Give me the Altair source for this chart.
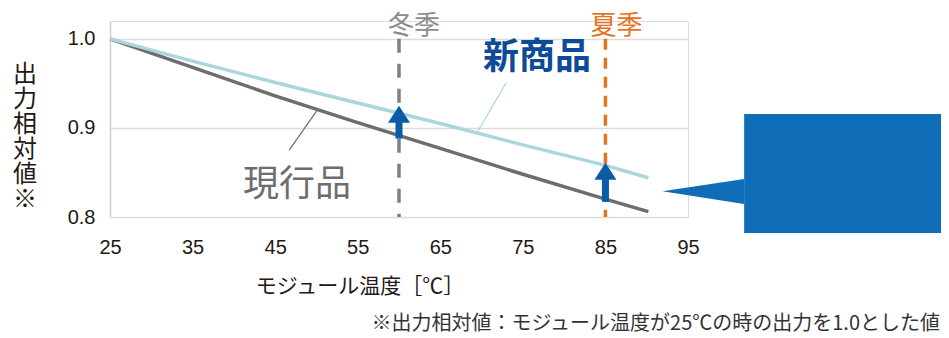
import altair as alt
import pandas as pd

# ---- data ----
temps = [25, 35, 45, 55, 65, 75, 85, 90.2]
current_vals = [1.0, 0.968, 0.936, 0.906, 0.877, 0.848, 0.820, 0.806]
new_vals = [1.0, 0.975, 0.951, 0.928, 0.905, 0.881, 0.858, 0.844]
series_names = ["現行品", "新商品"]

season_temps = [60, 85]
season_labels = ["冬季", "夏季"]

arrow_temps = [60, 85]
arrow_from = [0.888, 0.817]
arrow_to = [0.925, 0.861]

x_ticks = [25, 35, 45, 55, 65, 75, 85, 95]
y_ticks = [0.8, 0.9, 1.0]

# leader lines of the series labels (temp, value)
leader_x1 = [46.7, 73.0]
leader_y1 = [0.875, 0.951]
leader_x2 = [50.1, 69.4]
leader_y2 = [0.920, 0.894]

# callout box and pointer (temp, value units)
box_x = [101.8, 127.0]
box_y = [0.782, 0.9157]
pointer_x = [91.9, 101.8]
pointer_y = [0.829, 0.8427]
pointer_y2 = [0.829, 0.8146]

x_title = "モジュール温度［℃］"
y_title = ["出", "力", "相", "対", "値", "※"]
footnote = "※出力相対値：モジュール温度が25℃の時の出力を1.0とした値"

# ---- styles ----
JP = "Noto Sans CJK JP"
NUM = "Liberation Sans"
C_CUR = "#6D6D6D"
C_NEW = "#ACD6DE"
C_WINTER = "#808080"
C_SUMMER = "#E5731F"
C_ARROW = "#0B5CA6"
C_NEWTXT = "#0C4B98"
C_BOX = "#0E6DB6"

rows = []
for t, c, n in zip(temps, current_vals, new_vals):
    rows.append({"t": t, "v": c, "s": series_names[0]})
    rows.append({"t": t, "v": n, "s": series_names[1]})
lines_df = pd.DataFrame(rows)

xs = alt.Scale(domain=[25, 95], nice=False, zero=False)
ys = alt.Scale(domain=[0.8, 1.02], nice=False, zero=False)

x_axis = alt.Axis(values=x_ticks, grid=False, domain=False, ticks=False,
                  labelFont=NUM, labelFontSize=20, labelColor="#231815",
                  labelPadding=20, title=None, labelFlush=False)
y_axis = alt.Axis(values=y_ticks, format=".1f", grid=True, gridColor="#DCDCDC",
                  gridWidth=1.5, domain=True, domainColor="#CFCFCF", domainWidth=1.5,
                  ticks=False, labelFont=NUM, labelFontSize=20, labelColor="#231815",
                  labelPadding=15, title=None)

lines = alt.Chart(lines_df).mark_line(strokeWidth=3.5).encode(
    x=alt.X("t:Q", scale=xs, axis=x_axis),
    y=alt.Y("v:Q", scale=ys, axis=y_axis),
    color=alt.Color("s:N", scale=alt.Scale(domain=series_names, range=[C_CUR, C_NEW]),
                    legend=None),
    order=alt.Order("t:Q"),
)

season_df = pd.DataFrame({"t": season_temps, "lab": season_labels,
                          "top": [1.0, 1.0], "bot": [0.8, 0.8]})
winter_rule = alt.Chart(season_df[season_df.lab == "冬季"]).mark_rule(
    color=C_WINTER, strokeWidth=3.5, strokeDash=[14, 11]).encode(
    x="t:Q", y="top:Q", y2="bot:Q")
summer_rule = alt.Chart(season_df[season_df.lab == "夏季"]).mark_rule(
    color=C_SUMMER, strokeWidth=3.5, strokeDash=[11, 8]).encode(
    x="t:Q", y="top:Q", y2="bot:Q")

winter_txt = alt.Chart(season_df[season_df.lab == "冬季"]).mark_text(
    font=JP, fontSize=26, color="#8C8C8C", dx=15, baseline="middle").encode(
    x="t:Q", y=alt.value(5), text="lab:N")
summer_txt = alt.Chart(season_df[season_df.lab == "夏季"]).mark_text(
    font=JP, fontSize=26, color=C_SUMMER, dx=11, baseline="middle").encode(
    x="t:Q", y=alt.value(5), text="lab:N")

arrow_df = pd.DataFrame({"t": arrow_temps, "a": arrow_from, "b": arrow_to})
shaft = alt.Chart(arrow_df).mark_rule(color=C_ARROW, strokeWidth=7, y2Offset=10).encode(
    x="t:Q", y="a:Q", y2="b:Q")
head = alt.Chart(arrow_df).mark_point(
    shape="M0,0L1,1.55L-1,1.55Z", size=484, filled=True, opacity=1,
    color=C_ARROW, strokeWidth=0).encode(x="t:Q", y="b:Q")

leader_df = pd.DataFrame({"x1": leader_x1, "y1": leader_y1, "x2": leader_x2,
                          "y2": leader_y2, "s": series_names})
leaders = alt.Chart(leader_df).mark_rule(strokeWidth=1.2).encode(
    x="x1:Q", y="y1:Q", x2="x2:Q", y2="y2:Q",
    color=alt.Color("s:N", scale=alt.Scale(domain=series_names,
                                           range=["#8A8A8A", "#3D7EC2"]), legend=None))

one = alt.Data(values=[{}])
cur_label = alt.Chart(one).mark_text(font=JP, fontSize=36, color=C_CUR,
                                     baseline="middle", align="center").encode(
    x=alt.value(187), y=alt.value(164), text=alt.value(series_names[0]))
new_label = alt.Chart(one).mark_text(font=JP, fontSize=36, color=C_NEWTXT,
                                     fontWeight="bold", baseline="middle",
                                     align="center").encode(
    x=alt.value(427), y=alt.value(37), text=alt.value(series_names[1]))

box_df = pd.DataFrame({"x0": [box_x[0]], "x1": [box_x[1]],
                       "y0": [box_y[0]], "y1": [box_y[1]]})
box = alt.Chart(box_df).mark_rect(color=C_BOX).encode(
    x="x0:Q", x2="x1:Q", y="y0:Q", y2="y1:Q")
pointer_df = pd.DataFrame({"x": pointer_x, "y": pointer_y, "y2": pointer_y2})
pointer = alt.Chart(pointer_df).mark_area(color=C_BOX, orient="vertical").encode(
    x="x:Q", y="y:Q", y2="y2:Q")

ytitle = alt.Chart(one).mark_text(font=JP, fontSize=24, color="#231815",
                                  lineHeight=25, baseline="middle", align="center",
                                  text=y_title).encode(
    x=alt.value(-85), y=alt.value(54))
xtitle = alt.Chart(one).mark_text(font=JP, fontSize=21, color="#231815",
                                  baseline="middle", align="center").encode(
    x=alt.value(250), y=alt.value(266), text=alt.value(x_title))
foot = alt.Chart(one).mark_text(font=JP, fontSize=20, color="#333333",
                                baseline="middle", align="right").encode(
    x=alt.value(830), y=alt.value(303), text=alt.value(footnote))

chart = alt.layer(
    lines, winter_rule, summer_rule, winter_txt, summer_txt, leaders,
    shaft, head, cur_label, new_label, pointer, box, ytitle, xtitle, foot
).properties(
    width=578, height=196,
    autosize=alt.AutoSizeParams(type="none"),
    padding={"left": 102, "top": 13, "right": 253, "bottom": 119},
).configure_view(stroke=None).configure(background="white")

chart.save("out.html", embed_options={"renderer": "svg", "actions": False})
